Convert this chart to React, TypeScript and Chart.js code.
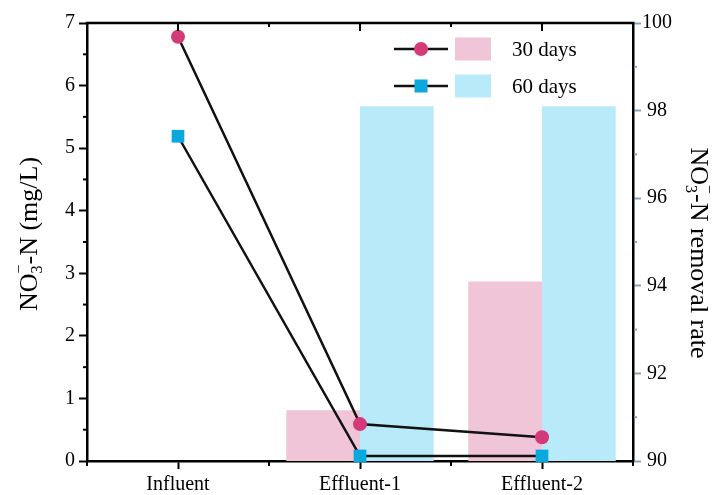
import React, { useEffect, useRef } from "react";
import { Chart, registerables } from "chart.js";

Chart.register(...registerables);

// ---- data ----
const categories = ["Influent", "Effluent-1", "Effluent-2"];
const seriesLabels = ["30 days", "60 days"];
const conc30 = [6.78, 0.59, 0.38];
const conc60 = [5.19, 0.08, 0.08];
const removal30: (number | null)[] = [null, 91.16, 94.1];
const removal60: (number | null)[] = [null, 98.1, 98.1];
const leftRange = [0, 7];
const rightRange = [90, 100];

// ---- styles ----
const FONT = "'Liberation Serif', 'Times New Roman', serif";
const PINK_MARK = "#d53a78";
const BLUE_MARK = "#0aa8dc";
const PINK_BAR = "#f0c5d7";
const BLUE_BAR = "#b9eafa";
const AXIS = "#000000";
const RIGHT_TICK = "#8aa2b8";

function drawChemTitle(
  ctx: CanvasRenderingContext2D,
  cx: number,
  cy: number,
  angle: number,
  size: number,
  suffix: string
) {
  ctx.save();
  ctx.translate(cx, cy);
  ctx.rotate(angle);
  ctx.fillStyle = "#000";
  ctx.textBaseline = "middle";
  ctx.textAlign = "left";
  const big = `${size}px ${FONT}`;
  const small = `${Math.round(size * 0.62)}px ${FONT}`;
  ctx.font = big;
  const wNO = ctx.measureText("NO").width;
  const wRest = ctx.measureText("-N" + suffix).width;
  ctx.font = small;
  const wSub = Math.max(ctx.measureText("3").width, ctx.measureText("\u2212").width);
  const total = wNO + wSub + wRest;
  let x = -total / 2;
  ctx.font = big;
  ctx.fillText("NO", x, 0);
  x += wNO;
  ctx.font = small;
  ctx.fillText("3", x, size * 0.3);
  ctx.fillText("\u2212", x, -size * 0.38);
  x += wSub;
  ctx.font = big;
  ctx.fillText("-N" + suffix, x, 0);
  ctx.restore();
}

const decorPlugin = {
  id: "decor",
  afterDraw(chart: any) {
    const ctx: CanvasRenderingContext2D = chart.ctx;
    const ca = chart.chartArea;
    const xs = chart.scales.x;
    const ys = chart.scales.y;
    const y1 = chart.scales.y1;
    ctx.save();
    ctx.strokeStyle = AXIS;
    ctx.lineCap = "butt";
    // top border
    ctx.lineWidth = 2.5;
    ctx.beginPath();
    ctx.moveTo(ca.left - 1.25, ca.top);
    ctx.lineTo(ca.right + 1.25, ca.top);
    ctx.stroke();
    // top ticks (inward) + bottom minor ticks
    ctx.lineWidth = 2;
    const n = categories.length;
    for (let i = 0; i < n; i++) {
      const px = xs.getPixelForValue(i);
      ctx.beginPath();
      ctx.moveTo(px, ca.top);
      ctx.lineTo(px, ca.top + 8);
      ctx.stroke();
    }
    const w = (ca.right - ca.left) / n;
    for (let k = 0; k <= n; k++) {
      const px = ca.left + k * w;
      if (k > 0 && k < n) {
        ctx.beginPath();
        ctx.moveTo(px, ca.top);
        ctx.lineTo(px, ca.top + 4);
        ctx.stroke();
      }
      ctx.beginPath();
      ctx.moveTo(px, ca.bottom);
      ctx.lineTo(px, ca.bottom + 5);
      ctx.stroke();
    }
    // left minor ticks
    for (let v = leftRange[0] + 0.5; v < leftRange[1]; v += 1) {
      const py = ys.getPixelForValue(v);
      ctx.beginPath();
      ctx.moveTo(ca.left - 4, py);
      ctx.lineTo(ca.left, py);
      ctx.stroke();
    }
    // right minor ticks
    ctx.strokeStyle = RIGHT_TICK;
    for (let v = rightRange[0] + 1; v < rightRange[1]; v += 2) {
      const py = y1.getPixelForValue(v);
      ctx.beginPath();
      ctx.moveTo(ca.right + 1, py);
      ctx.lineTo(ca.right + 4, py);
      ctx.stroke();
    }
    // axis titles
    drawChemTitle(ctx, 30, (ca.top + ca.bottom) / 2 - 8, -Math.PI / 2, 26, " (mg/L)");
    drawChemTitle(ctx, 698, (ca.top + ca.bottom) / 2 + 11, Math.PI / 2, 26, " removal rate");

    // legend
    const lx = ca.left + 307;
    const rows = [
      { y: ca.top + 26, mark: PINK_MARK, bar: PINK_BAR, style: "circle", label: seriesLabels[0] },
      { y: ca.top + 63, mark: BLUE_MARK, bar: BLUE_BAR, style: "rect", label: seriesLabels[1] },
    ];
    rows.forEach((r) => {
      ctx.strokeStyle = "#111";
      ctx.lineWidth = 2.5;
      ctx.beginPath();
      ctx.moveTo(lx, r.y);
      ctx.lineTo(lx + 54, r.y);
      ctx.stroke();
      ctx.fillStyle = r.mark;
      if (r.style === "circle") {
        ctx.beginPath();
        ctx.arc(lx + 27, r.y, 7, 0, Math.PI * 2);
        ctx.fill();
      } else {
        ctx.fillRect(lx + 27 - 6.5, r.y - 6.5, 13, 13);
      }
      ctx.fillStyle = r.bar;
      ctx.fillRect(lx + 61, r.y - 11.5, 36, 23);
      ctx.fillStyle = "#000";
      ctx.font = `21px ${FONT}`;
      ctx.textBaseline = "middle";
      ctx.textAlign = "left";
      ctx.fillText(r.label, lx + 118, r.y + 1);
    });
    ctx.restore();
  },
};

export default function App() {
  const ref = useRef<HTMLCanvasElement | null>(null);
  useEffect(() => {
    document.body.style.margin = "0";
    const canvas = ref.current;
    if (!canvas) return;
    const chart = new Chart(canvas, {
      type: "bar",
      data: {
        labels: categories,
        datasets: [
          {
            type: "line",
            label: seriesLabels[0] + " conc",
            data: conc30,
            yAxisID: "y",
            borderColor: "#111",
            borderWidth: 2.5,
            pointStyle: "circle",
            pointRadius: 7,
            pointBackgroundColor: PINK_MARK,
            pointBorderColor: PINK_MARK,
            pointBorderWidth: 0,
            order: 0,
            clip: false,
          } as any,
          {
            type: "line",
            label: seriesLabels[1] + " conc",
            data: conc60,
            yAxisID: "y",
            borderColor: "#111",
            borderWidth: 2.5,
            pointStyle: "rect",
            pointRadius: 9,
            pointBackgroundColor: BLUE_MARK,
            pointBorderColor: BLUE_MARK,
            pointBorderWidth: 0,
            order: 0,
            clip: false,
          } as any,
          {
            type: "bar",
            label: seriesLabels[0],
            data: removal30,
            yAxisID: "y1",
            backgroundColor: PINK_BAR,
            borderWidth: 0,
            categoryPercentage: 0.81,
            barPercentage: 1.0,
            order: 1,
          } as any,
          {
            type: "bar",
            label: seriesLabels[1],
            data: removal60,
            yAxisID: "y1",
            backgroundColor: BLUE_BAR,
            borderWidth: 0,
            categoryPercentage: 0.81,
            barPercentage: 1.0,
            order: 1,
          } as any,
        ],
      },
      options: {
        animation: false,
        responsive: true,
        maintainAspectRatio: false,
        layout: { padding: { top: 23, left: 0, right: 0, bottom: 0 } },
        plugins: { legend: { display: false }, tooltip: { enabled: false } },
        scales: {
          x: {
            type: "category",
            offset: true,
            grid: {
              offset: false,
              drawOnChartArea: false,
              drawTicks: true,
              tickLength: 8,
              tickWidth: 2,
              tickColor: AXIS,
            },
            border: { display: true, color: AXIS, width: 2.5 },
            ticks: { color: "#000", font: { family: FONT, size: 20 }, padding: 4, maxRotation: 0 },
            afterFit: (s: any) => {
              s.height = 34;
            },
          },
          y: {
            position: "left",
            min: leftRange[0],
            max: leftRange[1],
            ticks: { stepSize: 1, color: "#000", font: { family: FONT, size: 20 }, padding: 4 },
            grid: {
              drawOnChartArea: false,
              drawTicks: true,
              tickLength: 8,
              tickWidth: 2,
              tickColor: AXIS,
            },
            border: { display: true, color: AXIS, width: 2.5 },
            afterFit: (s: any) => {
              s.width = 87;
            },
          },
          y1: {
            position: "right",
            min: rightRange[0],
            max: rightRange[1],
            ticks: {
              stepSize: 2,
              color: "#000",
              font: { family: FONT, size: 20 },
              padding: 1,
              crossAlign: "center",
            },
            grid: {
              drawOnChartArea: false,
              drawTicks: true,
              tickLength: 8,
              tickWidth: 2,
              tickColor: RIGHT_TICK,
            },
            border: { display: true, color: AXIS, width: 2.5 },
            afterFit: (s: any) => {
              s.width = 80;
            },
          },
        },
      },
      plugins: [decorPlugin],
    });
    return () => chart.destroy();
  }, []);
  return (
    <div style={{ position: "fixed", left: 0, top: 0, width: 713, height: 495, background: "#fff" }}>
      <canvas ref={ref} />
    </div>
  );
}
